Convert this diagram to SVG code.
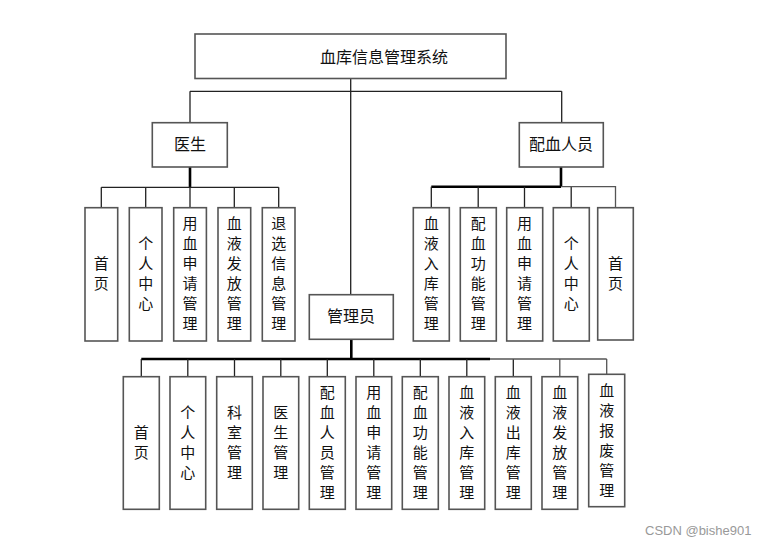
<svg xmlns="http://www.w3.org/2000/svg" width="769" height="545" viewBox="0 0 769 545">
<style>
.box{fill:#fff;stroke:#555;stroke-width:1.6}
.t{font-family:"Liberation Sans","Noto Sans CJK SC",sans-serif;font-size:16px;fill:#111;text-anchor:middle;dominant-baseline:central}
.v{font-family:"Liberation Sans","Noto Sans CJK SC",sans-serif;font-size:15px;fill:#111;text-anchor:middle;dominant-baseline:central}
.ln{stroke:#222;stroke-width:1.3;fill:none}
.lg{stroke:#555;stroke-width:1.3;fill:none}
.th{stroke:#000;stroke-width:2.6;fill:none}
.wm{font-family:"Liberation Sans",sans-serif;font-size:13px;fill:#999}
</style>
<rect width="769" height="545" fill="#fff"/>
<g id="connectors">
<path class="ln" d="M350.7 78V295M190 91.3H561.7M190 91.3V122.7M561.7 91.3V122.7"/>
<path class="th" d="M190 167V187.3"/>
<path class="ln" d="M101.3 187.3H278.7M101.3 187.3V207.7M145.7 187.3V207.7M190 187.3V207.7M234.3 187.3V207.7M278.7 187.3V207.7"/>
<path class="th" d="M561 167V186.7M431.3 186.7H561"/>
<path class="ln" d="M431.3 186.7V207.7M478.2 186.7V207.7M524.5 186.7V207.7M571.2 186.7V207.7"/>
<path class="lg" d="M561 186.7H615.5V207.7"/>
<path class="th" d="M351.3 339.3V359M141.3 359H490"/>
<path class="ln" d="M141.3 359V376.7M187.8 359V376.7M234.5 359V376.7M280.8 359V376.7M327.3 359V376.7M373.8 359V376.7M420.3 359V376.7M466.8 359V376.7M513.3 359V376.7"/>
<path class="lg" d="M490 359H606.7M559.8 359V376.7M606.7 359V374.3"/>
</g>
<g id="root"><rect class="box" x="195" y="34" width="311" height="44.5"/><text class="t" x="384" y="57">血库信息管理系统</text></g>
<g id="doctor"><rect class="box" x="152.3" y="122.7" width="75" height="44.3"/><text class="t" x="190" y="144.5">医生</text></g>
<g id="bloodstaff"><rect class="box" x="519.3" y="122.7" width="84" height="44.3"/><text class="t" x="561" y="144.5">配血人员</text></g>
<g id="admin"><rect class="box" x="309.3" y="294.7" width="84" height="44.6"/><text class="t" x="351" y="316.5">管理员</text></g>

<g id="d1"><rect class="box" x="85" y="207.7" width="32.7" height="133.3"/><text class="v" x="101.3"><tspan x="101.3" y="263">首</tspan><tspan x="101.3" y="283">页</tspan></text></g>
<g id="d2"><rect class="box" x="129.3" y="207.7" width="32.7" height="133.3"/><text class="v"><tspan x="145.7" y="243">个</tspan><tspan x="145.7" y="263">人</tspan><tspan x="145.7" y="283">中</tspan><tspan x="145.7" y="303">心</tspan></text></g>
<g id="d3"><rect class="box" x="173.7" y="207.7" width="32.7" height="133.3"/><text class="v"><tspan x="190" y="223">用</tspan><tspan x="190" y="243">血</tspan><tspan x="190" y="263">申</tspan><tspan x="190" y="283">请</tspan><tspan x="190" y="303">管</tspan><tspan x="190" y="323">理</tspan></text></g>
<g id="d4"><rect class="box" x="218" y="207.7" width="32.7" height="133.3"/><text class="v"><tspan x="234.3" y="223">血</tspan><tspan x="234.3" y="243">液</tspan><tspan x="234.3" y="263">发</tspan><tspan x="234.3" y="283">放</tspan><tspan x="234.3" y="303">管</tspan><tspan x="234.3" y="323">理</tspan></text></g>
<g id="d5"><rect class="box" x="262.3" y="207.7" width="32.7" height="133.3"/><text class="v"><tspan x="278.7" y="223">退</tspan><tspan x="278.7" y="243">选</tspan><tspan x="278.7" y="263">信</tspan><tspan x="278.7" y="283">息</tspan><tspan x="278.7" y="303">管</tspan><tspan x="278.7" y="323">理</tspan></text></g>

<g id="s1"><rect class="box" x="413.3" y="207.7" width="36" height="133.3"/><text class="v"><tspan x="431.3" y="223">血</tspan><tspan x="431.3" y="243">液</tspan><tspan x="431.3" y="263">入</tspan><tspan x="431.3" y="283">库</tspan><tspan x="431.3" y="303">管</tspan><tspan x="431.3" y="323">理</tspan></text></g>
<g id="s2"><rect class="box" x="460.3" y="207.7" width="36" height="133.3"/><text class="v"><tspan x="478.2" y="223">配</tspan><tspan x="478.2" y="243">血</tspan><tspan x="478.2" y="263">功</tspan><tspan x="478.2" y="283">能</tspan><tspan x="478.2" y="303">管</tspan><tspan x="478.2" y="323">理</tspan></text></g>
<g id="s3"><rect class="box" x="506.7" y="207.7" width="36" height="133.3"/><text class="v"><tspan x="524.5" y="223">用</tspan><tspan x="524.5" y="243">血</tspan><tspan x="524.5" y="263">申</tspan><tspan x="524.5" y="283">请</tspan><tspan x="524.5" y="303">管</tspan><tspan x="524.5" y="323">理</tspan></text></g>
<g id="s4"><rect class="box" x="553.3" y="207.7" width="36" height="133.3"/><text class="v"><tspan x="571.2" y="243">个</tspan><tspan x="571.2" y="263">人</tspan><tspan x="571.2" y="283">中</tspan><tspan x="571.2" y="303">心</tspan></text></g>
<g id="s5"><rect class="box" x="597.7" y="207.7" width="35.6" height="132.3"/><text class="v"><tspan x="615.5" y="263">首</tspan><tspan x="615.5" y="283">页</tspan></text></g>

<g id="a1"><rect class="box" x="123.3" y="376.7" width="36" height="132.6"/><text class="v"><tspan x="141.3" y="432">首</tspan><tspan x="141.3" y="452">页</tspan></text></g>
<g id="a2"><rect class="box" x="170" y="376.7" width="35.7" height="132.6"/><text class="v"><tspan x="187.8" y="412">个</tspan><tspan x="187.8" y="432">人</tspan><tspan x="187.8" y="452">中</tspan><tspan x="187.8" y="472">心</tspan></text></g>
<g id="a3"><rect class="box" x="216.7" y="376.7" width="35.6" height="132.6"/><text class="v"><tspan x="234.5" y="412">科</tspan><tspan x="234.5" y="432">室</tspan><tspan x="234.5" y="452">管</tspan><tspan x="234.5" y="472">理</tspan></text></g>
<g id="a4"><rect class="box" x="263" y="376.7" width="35.7" height="132.6"/><text class="v"><tspan x="280.8" y="412">医</tspan><tspan x="280.8" y="432">生</tspan><tspan x="280.8" y="452">管</tspan><tspan x="280.8" y="472">理</tspan></text></g>
<g id="a5"><rect class="box" x="309.3" y="376.7" width="36" height="132.6"/><text class="v"><tspan x="327.3" y="392">配</tspan><tspan x="327.3" y="412">血</tspan><tspan x="327.3" y="432">人</tspan><tspan x="327.3" y="452">员</tspan><tspan x="327.3" y="472">管</tspan><tspan x="327.3" y="492">理</tspan></text></g>
<g id="a6"><rect class="box" x="356" y="376.7" width="35.7" height="132.6"/><text class="v"><tspan x="373.8" y="392">用</tspan><tspan x="373.8" y="412">血</tspan><tspan x="373.8" y="432">申</tspan><tspan x="373.8" y="452">请</tspan><tspan x="373.8" y="472">管</tspan><tspan x="373.8" y="492">理</tspan></text></g>
<g id="a7"><rect class="box" x="402.3" y="376.7" width="36" height="132.6"/><text class="v"><tspan x="420.3" y="392">配</tspan><tspan x="420.3" y="412">血</tspan><tspan x="420.3" y="432">功</tspan><tspan x="420.3" y="452">能</tspan><tspan x="420.3" y="472">管</tspan><tspan x="420.3" y="492">理</tspan></text></g>
<g id="a8"><rect class="box" x="449" y="376.7" width="35.7" height="132.6"/><text class="v"><tspan x="466.8" y="392">血</tspan><tspan x="466.8" y="412">液</tspan><tspan x="466.8" y="432">入</tspan><tspan x="466.8" y="452">库</tspan><tspan x="466.8" y="472">管</tspan><tspan x="466.8" y="492">理</tspan></text></g>
<g id="a9"><rect class="box" x="495.3" y="376.7" width="36" height="132.6"/><text class="v"><tspan x="513.3" y="392">血</tspan><tspan x="513.3" y="412">液</tspan><tspan x="513.3" y="432">出</tspan><tspan x="513.3" y="452">库</tspan><tspan x="513.3" y="472">管</tspan><tspan x="513.3" y="492">理</tspan></text></g>
<g id="a10"><rect class="box" x="542" y="376.7" width="35.7" height="132.6"/><text class="v"><tspan x="559.8" y="392">血</tspan><tspan x="559.8" y="412">液</tspan><tspan x="559.8" y="432">发</tspan><tspan x="559.8" y="452">放</tspan><tspan x="559.8" y="472">管</tspan><tspan x="559.8" y="492">理</tspan></text></g>
<g id="a11"><rect class="box" x="588.7" y="374.3" width="36" height="132.4"/><text class="v"><tspan x="606.7" y="390">血</tspan><tspan x="606.7" y="410">液</tspan><tspan x="606.7" y="430">报</tspan><tspan x="606.7" y="450">废</tspan><tspan x="606.7" y="470">管</tspan><tspan x="606.7" y="490">理</tspan></text></g>

<text class="wm" x="645" y="535">CSDN @bishe901</text>
</svg>
